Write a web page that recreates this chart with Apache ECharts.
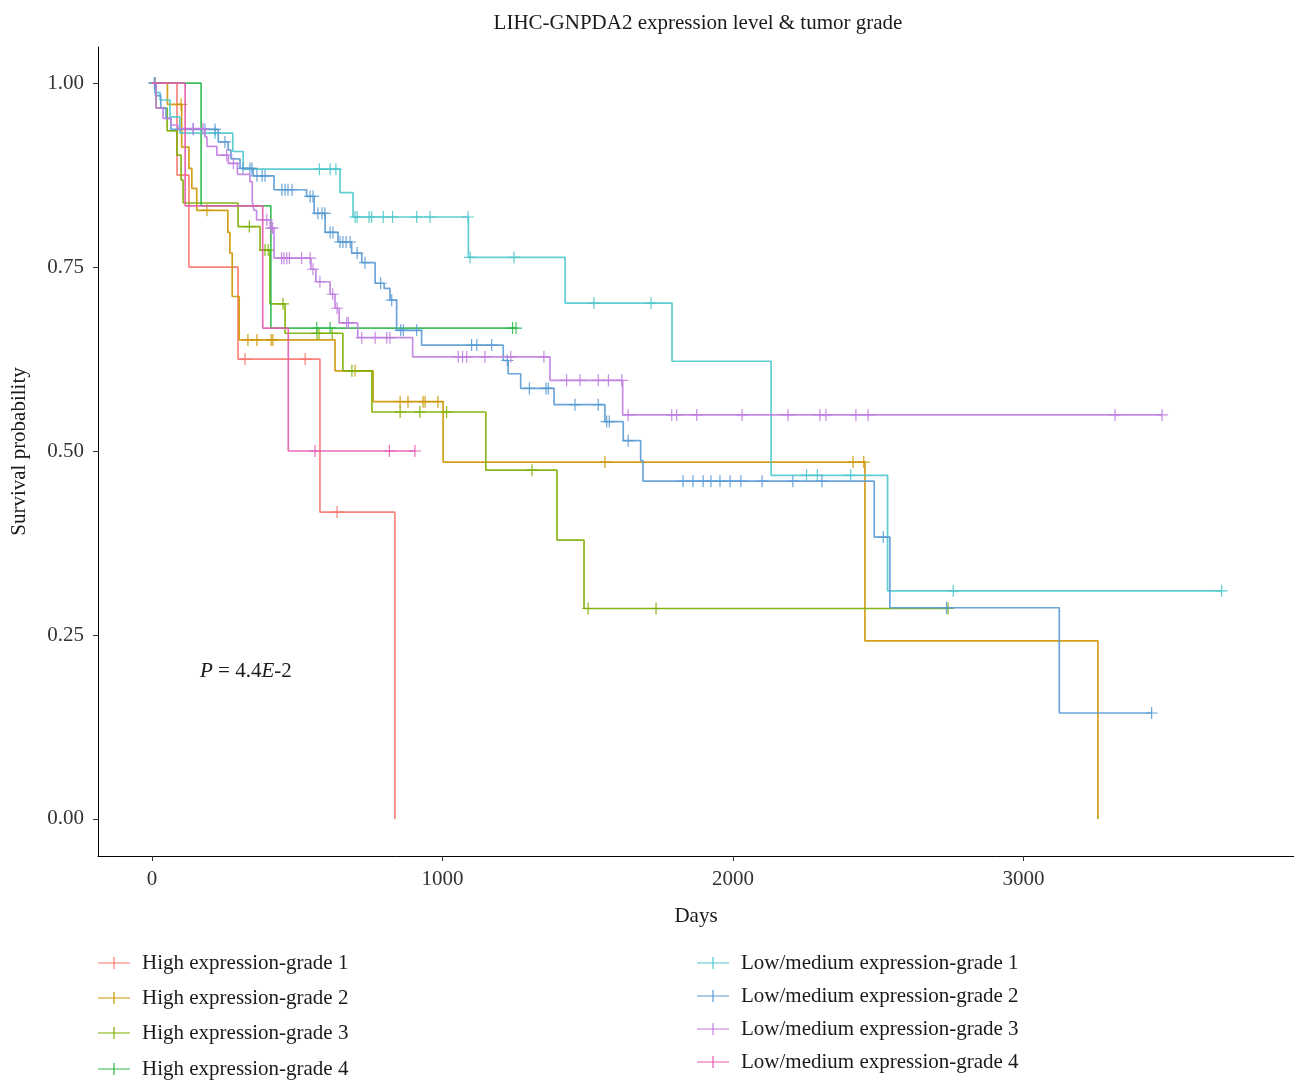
<!DOCTYPE html>
<html><head><meta charset="utf-8">
<script src="https://cdn.jsdelivr.net/npm/echarts@6/dist/echarts.min.js"></script>
<style>html,body{margin:0;padding:0;background:#fff}#c{width:1294px;height:1081px}</style>
</head><body><div id="c"></div>
<script>
// ---- data (days, survival probability) ----
const seriesNames = ['High expression-grade 1','High expression-grade 2','High expression-grade 3','High expression-grade 4',
  'Low/medium expression-grade 1','Low/medium expression-grade 2','Low/medium expression-grade 3','Low/medium expression-grade 4'];

const hg1Times = [0, 86, 127, 296, 578, 836];
const hg1Surv  = [1, 0.875, 0.75, 0.625, 0.417, 0];
const hg1Cens  = [320, 527, 637];

const hg2Times = [0, 53, 102, 127, 137, 154, 261, 268, 276, 300, 630, 761, 1002, 2454, 3256];
const hg2Surv  = [1, 0.971, 0.913, 0.884, 0.857, 0.827, 0.797, 0.769, 0.710, 0.651, 0.609, 0.567, 0.485, 0.242, 0];
const hg2Cens  = [10, 100, 189, 330, 361, 410, 416, 699, 854, 881, 933, 940, 984, 1559, 2413, 2450];

const hg3Times = [0, 14, 52, 86, 100, 107, 296, 372, 406, 458, 657, 757, 1149, 1394, 1487];
const hg3Surv  = [1, 0.966, 0.935, 0.902, 0.868, 0.837, 0.805, 0.773, 0.700, 0.660, 0.609, 0.553, 0.474, 0.379, 0.286];
const hg3Cens  = [335, 389, 400, 451, 568, 575, 620, 688, 854, 922, 1014, 1308, 1501, 1735, 2740];

const hg4Times = [0, 169, 409];
const hg4Surv  = [1, 0.833, 0.667];
const hg4Cens  = [567, 613, 1241, 1253];

const lg1Times = [0, 10, 28, 62, 96, 278, 314, 647, 692, 1089, 1422, 1790, 2131, 2532];
const lg1Surv  = [1, 0.987, 0.977, 0.954, 0.932, 0.907, 0.883, 0.851, 0.818, 0.763, 0.701, 0.622, 0.467, 0.310];
const lg1Cens  = [217, 576, 613, 633, 699, 706, 747, 756, 796, 828, 911, 957, 1088, 1095, 1246, 1521, 1718, 2253, 2290, 2405, 2758, 3682];

const lg2Times = [0, 12, 30, 48, 65, 228, 262, 272, 303, 348, 420, 532, 558, 596, 640, 687, 722, 768, 799, 819, 842, 928, 1209, 1226, 1269, 1384, 1559, 1622, 1682, 1690, 2486, 2540, 3123];
const lg2Surv  = [1, 0.983, 0.966, 0.952, 0.937, 0.920, 0.909, 0.897, 0.884, 0.874, 0.855, 0.846, 0.823, 0.797, 0.784, 0.769, 0.756, 0.728, 0.721, 0.705, 0.664, 0.644, 0.623, 0.605, 0.585, 0.563, 0.540, 0.514, 0.487, 0.459, 0.383, 0.287, 0.144];
const lg2Cens  = [8, 10, 142, 182, 217, 251, 313, 337, 344, 361, 379, 389, 447, 458, 468, 482, 544, 554, 571, 585, 595, 613, 623, 647, 657, 668, 682, 706, 733, 787, 825, 856, 865, 911, 1100, 1118, 1169, 1223, 1299, 1356, 1364, 1456, 1536, 1565, 1574, 1639, 1828, 1862, 1897, 1924, 1955, 1990, 2027, 2100, 2206, 2306, 2517, 2735, 3441];

const lg3Times = [0, 14, 38, 65, 89, 182, 189, 223, 263, 294, 337, 345, 351, 360, 407, 420, 547, 564, 613, 630, 644, 708, 897, 1370, 1620];
const lg3Surv  = [1, 0.966, 0.952, 0.943, 0.938, 0.927, 0.914, 0.902, 0.891, 0.876, 0.866, 0.840, 0.827, 0.814, 0.803, 0.762, 0.747, 0.730, 0.713, 0.694, 0.674, 0.654, 0.628, 0.596, 0.549];
const lg3Cens  = [141, 175, 257, 280, 395, 410, 415, 446, 454, 464, 473, 515, 544, 554, 578, 622, 637, 670, 676, 722, 768, 808, 819, 1054, 1069, 1083, 1146, 1235, 1349, 1427, 1473, 1536, 1571, 1617, 1639, 1789, 1806, 1875, 2031, 2189, 2299, 2320, 2423, 2465, 3315, 3477];

const lg4Times = [0, 114, 381, 469];
const lg4Surv  = [1, 0.833, 0.667, 0.5];
const lg4Cens  = [561, 817, 905];

const xTicks = [0, 1000, 2000, 3000];
const yTicks = [0, 0.25, 0.5, 0.75, 1];

// ---- presentation ----
const colors = ['#F8766D','#CD9600','#7CAE00','#2DB84C','#4EC8CC','#5B9BD5','#C07EE0','#E65AAE'];
const curves = [
  [hg1Times, hg1Surv, hg1Cens], [hg2Times, hg2Surv, hg2Cens], [hg3Times, hg3Surv, hg3Cens], [hg4Times, hg4Surv, hg4Cens],
  [lg1Times, lg1Surv, lg1Cens], [lg2Times, lg2Surv, lg2Cens], [lg3Times, lg3Surv, lg3Cens], [lg4Times, lg4Surv, lg4Cens]
];
const FONT = '"Liberation Serif", "DejaVu Serif", serif';
const FS = 21;
const plusSym = 'path://M5.4,0 h1.2 v12 h-1.2 Z M0,5.4 h12 v1.2 h-12 Z';
const legendIcon = 'path://M0,5.4 h32 v1.2 h-32 Z M15.4,0 h1.2 v12 h-1.2 Z';
const legendPos = [[98, 963], [98, 998], [98, 1033], [98, 1069], [697, 963], [697, 996], [697, 1029], [697, 1062]];

function levelAt(times, surv, t) {
  let s = surv[0];
  for (let i = 0; i < times.length; i++) { if (times[i] <= t) s = surv[i]; }
  return s;
}

const series = [];
curves.forEach(([times, surv, cens], k) => {
  const data = times.map((t, i) => [t, surv[i]]);
  const end = Math.max(times[times.length - 1], cens.length ? cens[cens.length - 1] : 0);
  if (end > times[times.length - 1]) data.push([end, surv[surv.length - 1]]);
  series.push({
    name: seriesNames[k], type: 'line', step: 'end', data: data,
    showSymbol: false, symbol: 'none', color: colors[k],
    lineStyle: { width: 1.7, color: colors[k], opacity: 0.9 },
    emphasis: { disabled: true }, animation: false, z: 2 + k
  });
  series.push({
    name: seriesNames[k] + ' censor', type: 'scatter',
    data: cens.map(c => [c, levelAt(times, surv, c)]),
    symbol: plusSym, symbolSize: 12,
    itemStyle: { color: colors[k], opacity: 0.9 },
    emphasis: { disabled: true }, animation: false, z: 2 + k, silent: true
  });
});

const legends = seriesNames.map((n, k) => ({
  orient: 'vertical', left: legendPos[k][0], top: legendPos[k][1] - 11, padding: 0,
  itemWidth: 32, itemHeight: 12, selectedMode: false,
  data: [{ name: n, icon: legendIcon }],
  textStyle: { fontFamily: FONT, fontSize: FS, color: '#1a1a1a', padding: [0, 0, 0, 7], lineHeight: 22 }
}));

const chart = echarts.init(document.getElementById('c'), null, { renderer: 'canvas' });
chart.setOption({
  backgroundColor: '#fff',
  animation: false,
  textStyle: { fontFamily: FONT },
  grid: { left: 98, right: 0, top: 47, bottom: 225, containLabel: false, outerBoundsMode: 'none' },
  xAxis: {
    type: 'value', min: -186, max: 3931,
    name: 'Days', nameLocation: 'middle', nameGap: 50,
    nameTextStyle: { fontFamily: FONT, fontSize: FS, color: '#1a1a1a' },
    axisLine: { onZero: false, lineStyle: { color: '#000', width: 1 } },
    axisTick: { show: true, length: 5, customValues: xTicks, lineStyle: { color: '#333' } },
    axisLabel: { customValues: xTicks, margin: 13, fontFamily: FONT, fontSize: FS, color: '#333',
      formatter: v => String(v) },
    splitLine: { show: false }
  },
  yAxis: {
    type: 'value', min: -0.0503, max: 1.049,
    name: 'Survival probability', nameLocation: 'middle', nameGap: 68,
    nameTextStyle: { fontFamily: FONT, fontSize: FS, color: '#1a1a1a' },
    axisLine: { show: true, onZero: false, lineStyle: { color: '#000', width: 1 } },
    axisTick: { show: true, length: 5, customValues: yTicks, lineStyle: { color: '#333' } },
    axisLabel: { customValues: yTicks, margin: 14, fontFamily: FONT, fontSize: FS, color: '#333',
      formatter: v => v.toFixed(2) },
    splitLine: { show: false }
  },
  legend: legends,
  graphic: [
    { type: 'text', x: 698, y: 23, style: { text: 'LIHC-GNPDA2 expression level & tumor grade',
        font: FS + 'px ' + FONT, fill: '#1a1a1a', textAlign: 'center', textVerticalAlign: 'middle' } },
    { type: 'text', x: 200, y: 671, style: { text: '{i|P} = 4.4{i|E}-2',
        font: FS + 'px ' + FONT, fill: '#1a1a1a', textVerticalAlign: 'middle',
        rich: { i: { fontStyle: 'italic', fontFamily: FONT, fontSize: FS, fill: '#1a1a1a' } } } }
  ],
  series: series
});
</script></body></html>
